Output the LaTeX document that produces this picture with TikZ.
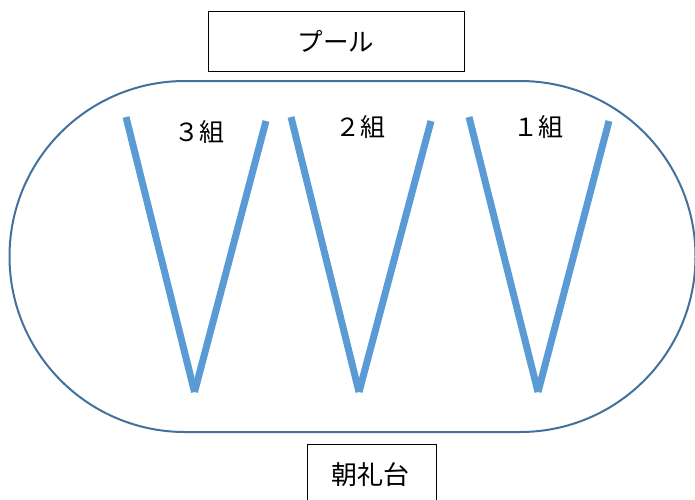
\documentclass[tikz,border=0pt]{standalone}
\usepackage{fontspec}
\newfontfamily\jp{Noto Sans CJK JP}
\definecolor{trackblue}{HTML}{41719C}
\definecolor{vblue}{HTML}{5B9BD5}
\begin{document}
\begin{tikzpicture}[x=1pt,y=-1pt,
  box/.style={draw=black,line width=1pt,inner sep=0pt,font=\jp\fontsize{25.5}{28}\selectfont},
  vline/.style={draw=vblue,line width=7pt,line cap=butt},
  track/.style={draw=trackblue,line width=2pt},
  grp/.style={inner sep=0pt,font=\jp\fontsize{25}{28}\selectfont},
  boxtext/.style={inner sep=0pt,font=\jp\fontsize{26}{28}\selectfont}]
\useasboundingbox (0,0) rectangle (695,499);
% track
\draw[track] (185,81) -- (520,81) arc (-90:90:175.5) -- (185,432) arc (90:270:175.5) -- cycle;
% boxes
\node[box,minimum width=256pt,minimum height=60pt] (pool) at (336,41) {プール};
\node[box,minimum width=129pt,minimum height=66pt,anchor=north] (dai) at (371.5,444) {};
\node[boxtext] (daitext) at (370,475) {朝礼台};
% V shapes
\coordinate (a1) at (126,117); \coordinate (b1) at (194.5,392); \coordinate (c1) at (266,121);
\coordinate (a2) at (291,117); \coordinate (b2) at (359,392); \coordinate (c2) at (431,121);
\coordinate (a3) at (469,117); \coordinate (b3) at (538,392); \coordinate (c3) at (609,121);
\foreach \i in {1,2,3}{
  \draw[vline] (a\i) -- (b\i);
  \draw[vline] (c\i) -- (b\i);
}
% labels
\node[grp] (g3) at (199,132) {３組};
\node[grp] (g2) at (360,127) {２組};
\node[grp] (g1) at (538,127) {１組};
\end{tikzpicture}
\end{document}
